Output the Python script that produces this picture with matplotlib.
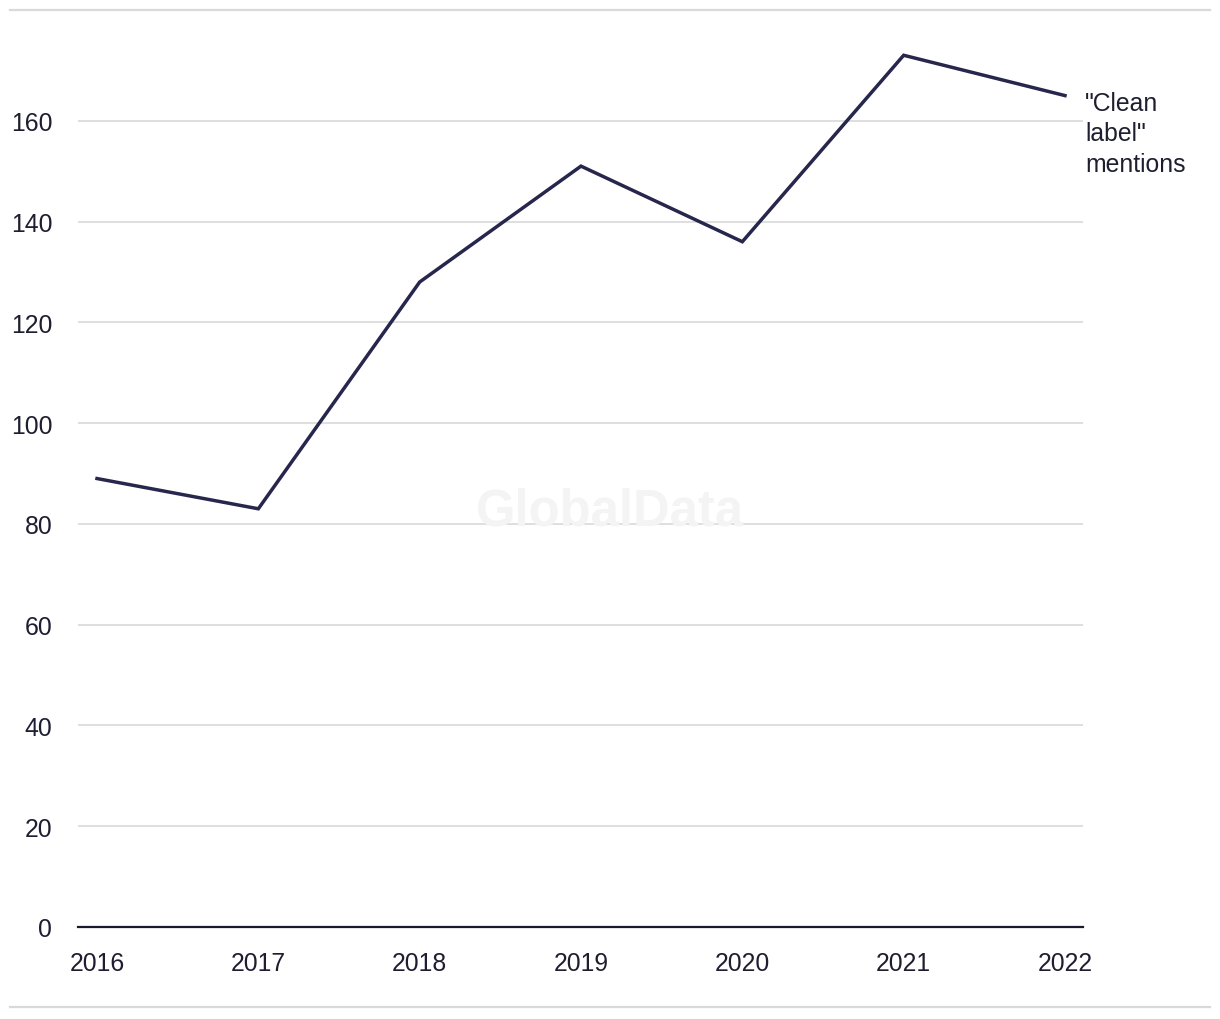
import matplotlib
matplotlib.use("Agg")
import matplotlib.pyplot as plt
from matplotlib.lines import Line2D

# "Clean label" mentions per year
years = [2016, 2017, 2018, 2019, 2020, 2021, 2022]
mentions = [89, 83, 128, 151, 136, 173, 165]
y_ticks = [0, 20, 40, 60, 80, 100, 120, 140, 160]
series_label = '"Clean\nlabel"\nmentions'

line_color = "#27264c"
text_color = "#1e1e30"
grid_color = "#d9d9d9"

plt.rcParams["font.family"] = ["Liberation Sans", "DejaVu Sans"]

W, H = 1220, 1020
fig = plt.figure(figsize=(W / 100, H / 100), dpi=100)
ax = fig.add_axes([78 / W, 1 - 928 / H, (1083 - 78) / W, (928 - 21) / H])

ax.plot(years, mentions, color=line_color, lw=2.5, solid_joinstyle="miter", zorder=3)
ax.set_xlim(2016 - 19 / 161.33, 2022 + 18 / 161.33)
ax.set_ylim(0, 180)
ax.set_yticks(y_ticks)
ax.set_xticks(years)

ax.grid(axis="y", color=grid_color, lw=1.2)
ax.set_axisbelow(True)
for s in ["top", "right", "left"]:
    ax.spines[s].set_visible(False)
ax.spines["bottom"].set_color("#1a1a2e")
ax.spines["bottom"].set_linewidth(1.6)
ax.spines["bottom"].set_zorder(4)

ax.tick_params(axis="y", length=0, pad=18.5, labelsize=17.8, labelcolor=text_color)
ax.tick_params(axis="x", length=0, pad=17.5, labelsize=17.8, labelcolor=text_color)

ax.annotate(series_label, xy=(years[-1], mentions[-1]), xycoords="data",
            xytext=(20, 5), textcoords="offset pixels", ha="left", va="top",
            fontsize=17.8, color=text_color, linespacing=1.36, annotation_clip=False)

# watermark
fig.text(0.5, 1 - 512 / H, "GlobalData", ha="center", va="center",
         fontsize=36.5, fontweight="bold", color="#f4f4f4", zorder=0)

# frame lines top and bottom
fig.add_artist(Line2D([10 / W, 1210 / W], [1 - 11 / H, 1 - 11 / H], color=grid_color, lw=1.6))
fig.add_artist(Line2D([10 / W, 1210 / W], [1 - 1008 / H, 1 - 1008 / H], color=grid_color, lw=1.6))

fig.savefig("out.png", dpi=100, facecolor="white")
